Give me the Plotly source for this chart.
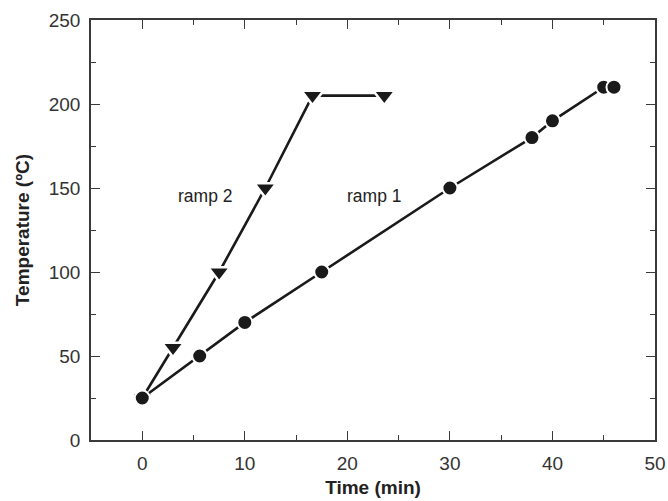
import plotly.graph_objects as go

# ramp 1 (circles)
ramp1_time = [0, 5.6, 10, 17.5, 30, 38, 40, 45, 46]
ramp1_temp = [25, 50, 70, 100, 150, 180, 190, 210, 210]
# ramp 2 (triangles)
ramp2_time = [0, 3, 7.5, 12, 16.6, 23.6]
ramp2_temp = [25, 55, 100, 150, 205, 205]

labels = ["ramp 2", "ramp 1"]
label_x = [6.1, 22.6]
label_y = [145, 145]

ink = "#1a1a1a"
axis_col = "#3a3a3a"
font_fam = "Liberation Sans, Arial, sans-serif"

fig = go.Figure()
fig.add_trace(go.Scatter(
    x=ramp2_time, y=ramp2_temp, mode="lines+markers",
    line=dict(color=ink, width=2.6),
    marker=dict(symbol="triangle-down", size=19, color=ink,
                line=dict(color="white", width=2.5)),
    showlegend=False))
fig.add_trace(go.Scatter(
    x=ramp1_time, y=ramp1_temp, mode="lines+markers",
    line=dict(color=ink, width=2.6),
    marker=dict(symbol="circle", size=15, color=ink,
                line=dict(color="white", width=2)),
    showlegend=False))

for t, xx, yy in zip(labels, label_x, label_y):
    fig.add_annotation(x=xx, y=yy, text=t, showarrow=False,
                       font=dict(family=font_fam, size=17.5, color="#222"))

axis_common = dict(
    showline=True, linecolor=axis_col, linewidth=1.5, mirror="ticks",
    ticks="inside", ticklen=9, tickwidth=1.3, tickcolor=axis_col,
    showgrid=False, zeroline=False, ticklabelstandoff=5, automargin=False,
    tickfont=dict(family=font_fam, size=19, color="#333"),
)

fig.update_layout(
    width=668, height=501,
    margin=dict(l=91, r=13, t=20, b=61),
    paper_bgcolor="white", plot_bgcolor="white",
    xaxis=dict(range=[-5, 50], dtick=10, tick0=0,
               minor=dict(ticks="inside", ticklen=5, dtick=5, tickcolor=axis_col, tickwidth=1.2),
               title=dict(text="<b>Time (min)</b>", standoff=8,
                          font=dict(family=font_fam, size=19, color="#222")),
               **axis_common),
    yaxis=dict(range=[0, 250], dtick=50, tick0=0,
               minor=dict(ticks="inside", ticklen=5, dtick=25, tickcolor=axis_col, tickwidth=1.2),
               title=dict(text="<b>Temperature (ºC)</b>", standoff=14,
                          font=dict(family=font_fam, size=19, color="#222")),
               **axis_common),
)

fig.write_html("out.html")
